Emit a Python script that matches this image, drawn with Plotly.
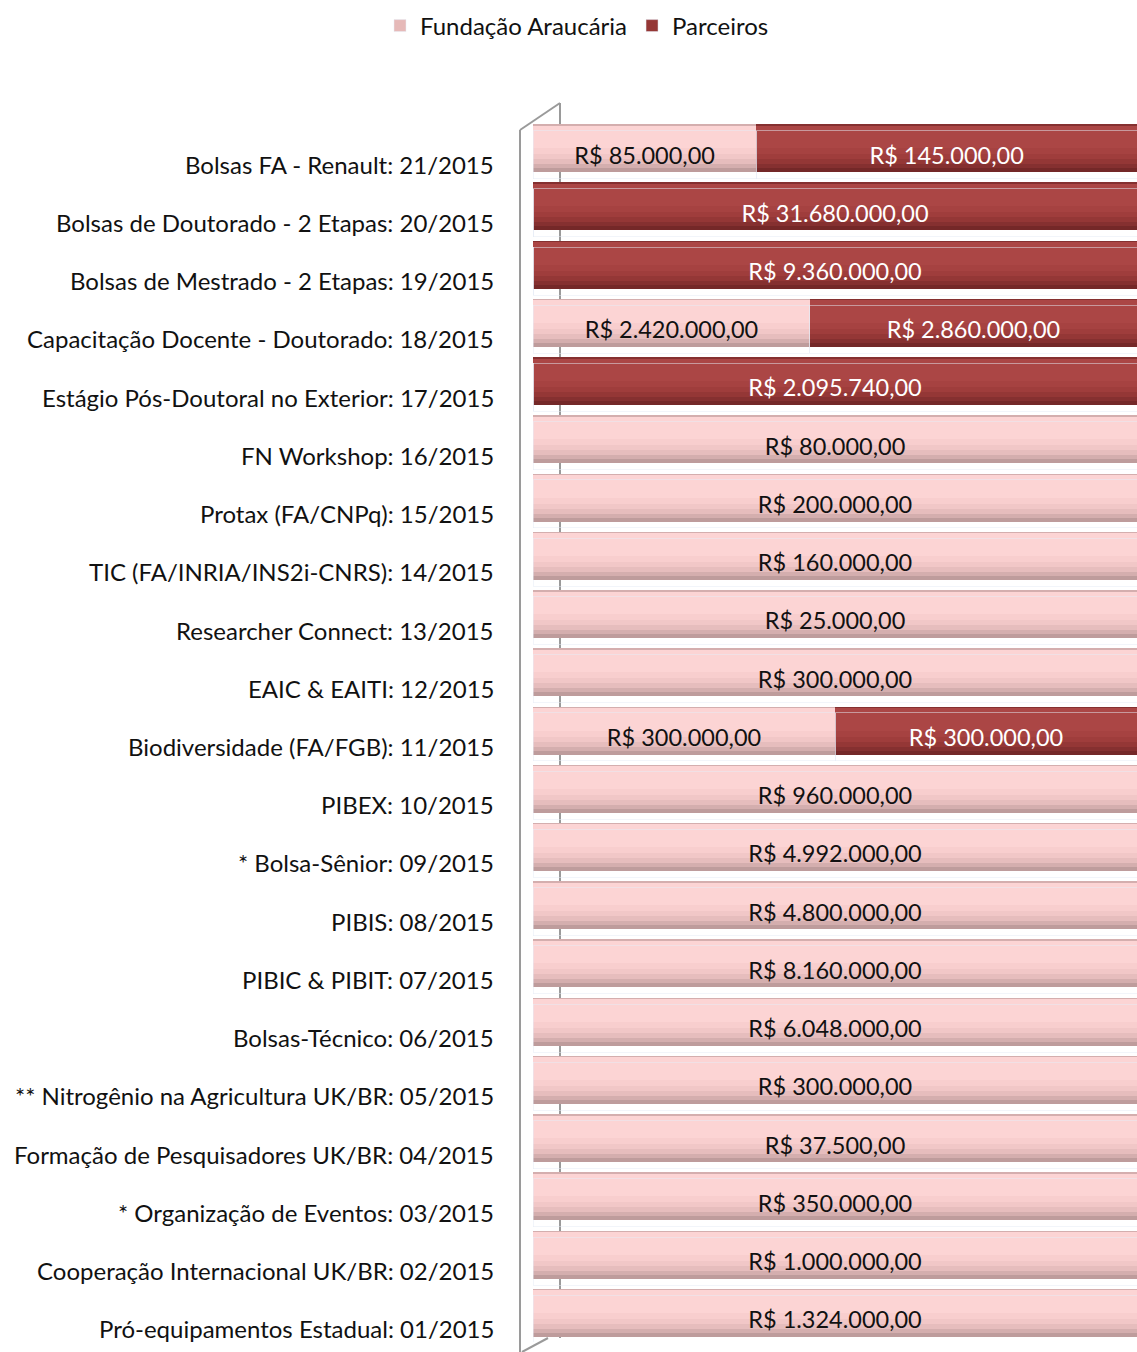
import plotly.graph_objects as go

categories = [
    "Bolsas FA - Renault: 21/2015",
    "Bolsas de Doutorado - 2 Etapas: 20/2015",
    "Bolsas de Mestrado - 2 Etapas: 19/2015",
    "Capacitação Docente - Doutorado: 18/2015",
    "Estágio Pós-Doutoral no Exterior: 17/2015",
    "FN Workshop: 16/2015",
    "Protax (FA/CNPq): 15/2015",
    "TIC (FA/INRIA/INS2i-CNRS): 14/2015",
    "Researcher Connect: 13/2015",
    "EAIC & EAITI: 12/2015",
    "Biodiversidade (FA/FGB): 11/2015",
    "PIBEX: 10/2015",
    "* Bolsa-Sênior: 09/2015",
    "PIBIS: 08/2015",
    "PIBIC & PIBIT: 07/2015",
    "Bolsas-Técnico: 06/2015",
    "** Nitrogênio na Agricultura UK/BR: 05/2015",
    "Formação de Pesquisadores UK/BR: 04/2015",
    "* Organização de Eventos: 03/2015",
    "Cooperação Internacional UK/BR: 02/2015",
    "Pró-equipamentos Estadual: 01/2015",
]
fundacao = [85000, 0, 0, 2420000, 0, 80000, 200000, 160000, 25000, 300000,
            300000, 960000, 4992000, 4800000, 8160000, 6048000, 300000,
            37500, 350000, 1000000, 1324000]
parceiros = [145000, 31680000, 9360000, 2860000, 2095740, 0, 0, 0, 0, 0,
             300000, 0, 0, 0, 0, 0, 0, 0, 0, 0, 0]


def brl(v):
    s = f"{v:,.2f}"
    s = s.replace(",", "X").replace(".", ",").replace("X", ".")
    return "R$ " + s


FONT = "Lato"
W, H = 1137, 1352
L, T, R = 533, 119, 0
B = H - 1342
PW, PH = W - L - R, H - T - B
N = len(categories)
PITCH = PH / N
BAR_PX = 48


def px(x):
    return (x - L) / PW


def py(y):
    return 1 - (y - T) / PH


fig = go.Figure()

# cylinder shading: bands (px from bar top) with pink / red shades
bands = [
    ((0, 48), "#BE9C9C", "#742828"),
    ((0, 44), "#D4AEAE", "#853030"),
    ((1.5, 40), "#E6BDBD", "#943736"),
    ((1.5, 35), "#F1C7C7", "#9F3D3C"),
    ((1.5, 30), "#F8CECE", "#A64241"),
    ((1.5, 24), "#FCD4D4", "#AB4645"),
]
layout_axes = {}
for i, ((a, b), pink, red) in enumerate(bands):
    ax = "y" if i == 0 else f"y{i + 1}"
    w = (b - a) / PITCH
    up = (BAR_PX / 2 - (a + b) / 2) / PITCH
    layout_axes[ax] = up
    for vals, col, nm in ((fundacao, pink, "Fundação Araucária"),
                          (parceiros, red, "Parceiros")):
        fig.add_trace(go.Bar(
            y=categories, x=vals, orientation="h", name=nm,
            width=w, yaxis=ax, marker=dict(color=col, line=dict(width=0)),
            showlegend=False, hoverinfo="skip",
        ))

# transparent text layer on top (slightly lower, like the original)
TXT_AX = f"y{len(bands) + 1}"
layout_axes[TXT_AX] = -0.11
for vals, col, nm in ((fundacao, "#111111", "Fundação Araucária"),
                      (parceiros, "#FFFFFF", "Parceiros")):
    fig.add_trace(go.Bar(
        y=categories, x=vals, orientation="h", width=BAR_PX / PITCH,
        yaxis=TXT_AX, name=nm,
        marker=dict(color="rgba(0,0,0,0)"), showlegend=False,
        hoverinfo="skip",
        text=[brl(v) if v else "" for v in vals],
        textposition="inside", insidetextanchor="middle", textangle=0,
        constraintext="none",
        textfont=dict(family=FONT, size=23.5, color=col),
    ))

# legend entries
fig.add_trace(go.Bar(y=[None], x=[None], orientation="h",
                     name="Fundação Araucária", marker=dict(color="#E6B9B8")))
fig.add_trace(go.Bar(y=[None], x=[None], orientation="h",
                     name="Parceiros", marker=dict(color="#953735")))

annotations = []
for c in categories:
    annotations.append(dict(
        x=px(496), xref="paper", y=c, yref="y", yshift=-16,
        text=c, showarrow=False, xanchor="right", yanchor="middle",
        font=dict(family=FONT, size=24, color="#111111"),
    ))

gray = dict(color="#9A9A9A", width=2)
shapes = [
    dict(type="line", xref="paper", yref="paper", x0=px(520), x1=px(520),
         y0=py(130), y1=py(1360), line=gray, layer="below"),
    dict(type="line", xref="paper", yref="paper", x0=px(520), x1=px(560),
         y0=py(130), y1=py(103), line=gray, layer="below"),
    dict(type="line", xref="paper", yref="paper", x0=px(560), x1=px(560),
         y0=py(103), y1=py(1338), line=gray, layer="below"),
    dict(type="line", xref="paper", yref="paper", x0=px(522), x1=px(548),
         y0=py(1352), y1=py(1338), line=gray, layer="below"),
]

hidden = dict(showticklabels=False, showgrid=False, zeroline=False,
              showline=False, ticks="", fixedrange=True,
              categoryorder="array", categoryarray=categories)

axes_layout = {}
for ax, up in layout_axes.items():
    key = "yaxis" if ax == "y" else "yaxis" + ax[1:]
    d = dict(range=[N - 0.5 + up, -0.5 + up], **hidden)
    if ax != "y":
        d["overlaying"] = "y"
    axes_layout[key] = d

fig.update_layout(
    width=W, height=H,
    barmode="stack", barnorm="percent",
    plot_bgcolor="white", paper_bgcolor="white",
    margin=dict(l=L, r=R, t=T, b=B, autoexpand=False),
    font=dict(family=FONT, size=24, color="#111111"),
    legend=dict(orientation="h", x=px(577), xanchor="center",
                y=py(26), yanchor="middle",
                font=dict(family=FONT, size=24, color="#111111"),
                itemwidth=30, traceorder="normal"),
    xaxis=dict(range=[0, 100], visible=False, fixedrange=True),
    annotations=annotations,
    shapes=shapes,
    **axes_layout,
)

fig.write_html(
    "out.html",
    config={"displayModeBar": False},
    post_script="document.body.style.margin='0';"
                "document.body.style.overflow='hidden';",
)
